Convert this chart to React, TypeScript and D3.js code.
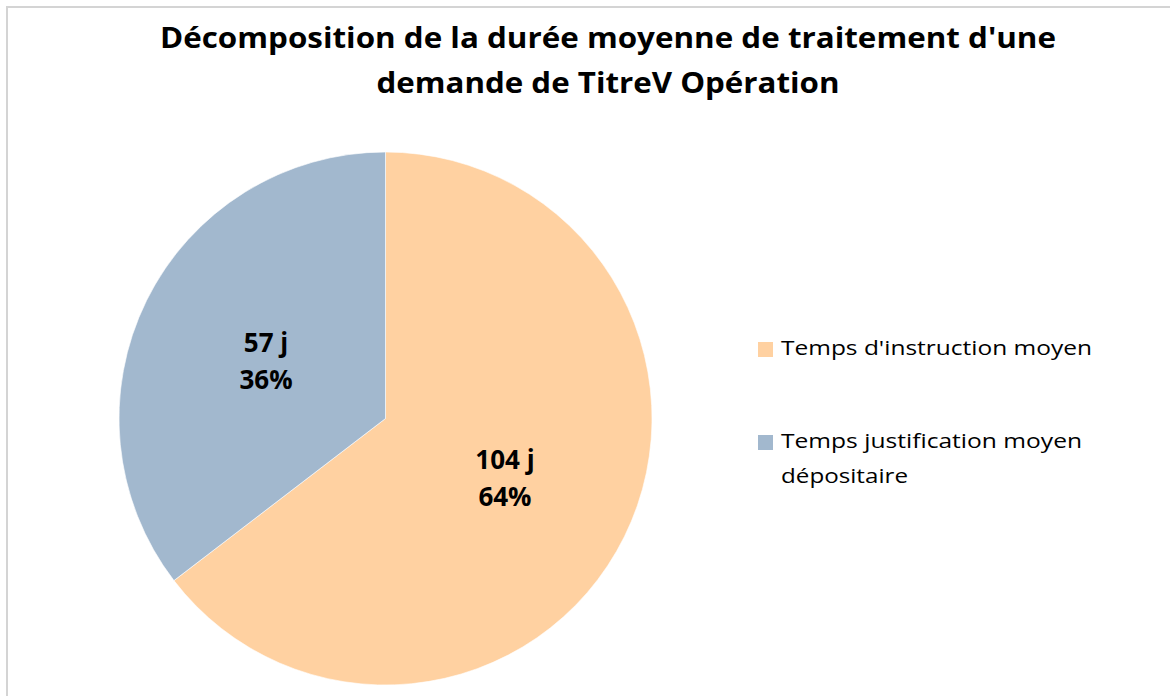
import React from "react";
import { pie, arc } from "d3";

const categories = ["Temps d'instruction moyen", "Temps justification moyen dépositaire"];
const days = [104, 57];
const percentLabels = ["64%", "36%"];
const colors = ["#FFD1A1", "#A2B8CE"];
const legendLines = [["Temps d'instruction moyen"], ["Temps justification moyen", "dépositaire"]];
const legendLens = [[311], [301, 127]];

const titleLines = [
  { text: "Décomposition de la durée moyenne de traitement d'une", len: 896 },
  { text: "demande de TitreV Opération", len: 463 },
];

function App() {
  const width = 1170;
  const height = 696;
  const cx = 385.5;
  const cy = 418.5;
  const radius = 266.5;

  const slices = pie<number>().sort(null).value((d) => d)(days);
  const sliceArc = arc<any>().innerRadius(0).outerRadius(radius);
  const labelArc = arc<any>().innerRadius(radius * 0.5).outerRadius(radius * 0.5);

  const font = "'Open Sans', 'DejaVu Sans', sans-serif";

  return (
    <svg
      width={width}
      height={height}
      style={{ position: "absolute", left: 0, top: 0, background: "#fff" }}
    >
      {/* chart area border */}
      <rect x={7} y={7} width={width + 20} height={height + 20} fill="#fff" stroke="#d4d4d4" strokeWidth={2} />

      {/* title */}
      <g fontFamily={font} fontWeight="bold" fontSize={29} fill="#000" textAnchor="middle">
        {titleLines.map((l, i) => (
          <text key={i} x={608} y={48 + i * 45} textLength={l.len} lengthAdjust="spacingAndGlyphs">
            {l.text}
          </text>
        ))}
      </g>

      {/* pie */}
      <g transform={`translate(${cx},${cy})`}>
        {slices.map((s, i) => (
          <path key={i} d={sliceArc(s) || ""} fill={colors[i]} stroke="#fff" strokeOpacity={0.6} strokeWidth={1} />
        ))}
        {slices.map((s, i) => {
          const [lx, ly] = labelArc.centroid(s);
          return (
            <g key={"l" + i} fontFamily={font} fontWeight="bold" fontSize={26} fill="#000" textAnchor="middle">
              <text x={lx} y={ly - 8}>{days[i]} j</text>
              <text x={lx} y={ly + 29}>{percentLabels[i]}</text>
            </g>
          );
        })}
      </g>

      {/* legend */}
      <g fontFamily={font} fontSize={20} fill="#000">
        {categories.map((c, i) => (
          <g key={c} transform={`translate(758,${342 + i * 93})`}>
            <rect width={15} height={15} fill={colors[i]} />
            {legendLines[i].map((t, j) => (
              <text key={j} x={23} y={13 + j * 35} textLength={legendLens[i][j]} lengthAdjust="spacingAndGlyphs">
                {t}
              </text>
            ))}
          </g>
        ))}
      </g>
    </svg>
  );
}

export default App;
